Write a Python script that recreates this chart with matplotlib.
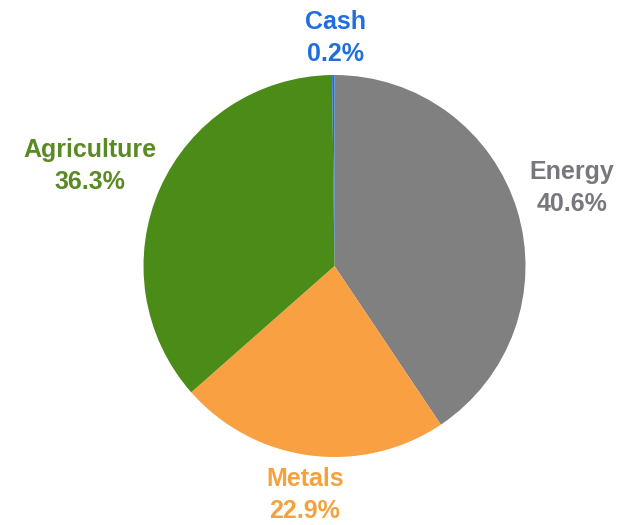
import matplotlib.pyplot as plt

# allocation by sector, clockwise from 12 o'clock
sectors = ["Energy", "Metals", "Agriculture", "Cash"]
weights = [40.6, 22.9, 36.3, 0.2]
slice_colors = ["#808080", "#f9a043", "#4b8b17", "#1e6ee0"]
label_colors = ["#77777d", "#f5a23c", "#5a8a24", "#1e6ee0"]

# label anchor points in pixels (x, y from top)
label_pos = [(572, 188), (305, 495), (90, 166), (335, 38)]

W, H = 618, 525
fig = plt.figure(figsize=(W / 100, H / 100), dpi=100)
ax = fig.add_axes([0, 0, 1, 1])

cx, cy, r = 334.5, H - 266, 191
ax.pie(weights, colors=slice_colors, startangle=90, counterclock=False,
       center=(cx, cy), radius=r, frame=True,
       wedgeprops=dict(linewidth=0))
ax.set_xlim(0, W)
ax.set_ylim(0, H)
ax.set_aspect("equal")
ax.axis("off")

for name, val, col, (x, y) in zip(sectors, weights, label_colors, label_pos):
    ax.text(x, H - y, f"{name}\n{val}%", ha="center", va="center",
            color=col, fontsize=18, fontweight="bold",
            family="Liberation Sans", linespacing=1.4)

fig.savefig("out.png", dpi=100, facecolor="white")
